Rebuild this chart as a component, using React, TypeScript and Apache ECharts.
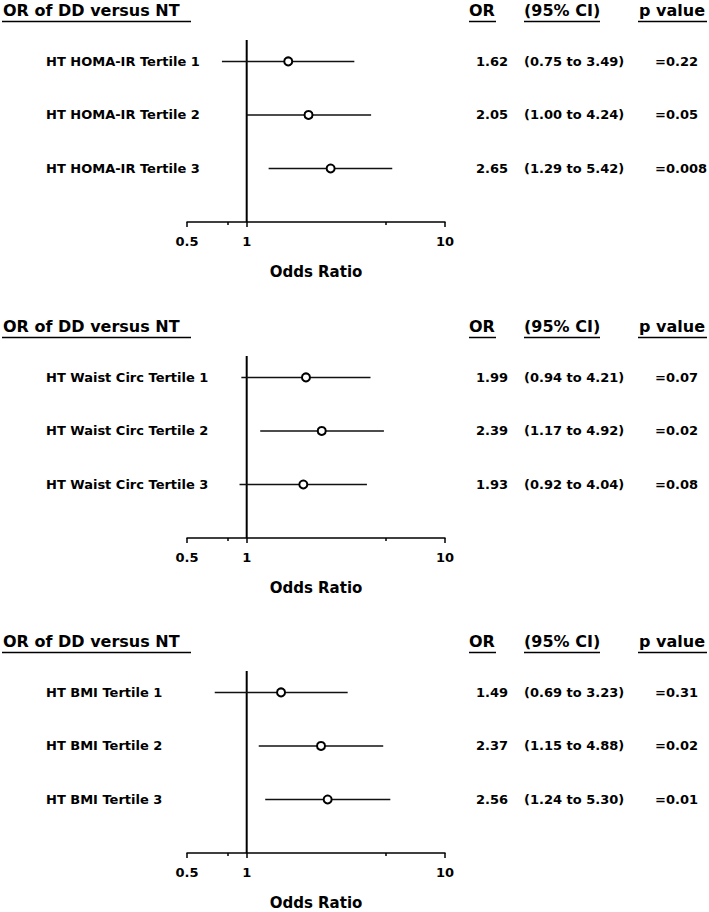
import React, { useEffect, useRef } from "react";
import * as echarts from "echarts";

const FONT = "'DejaVu Sans', 'Liberation Sans', sans-serif";

// Panel 1: HOMA-IR
const homaLabels = ["HT HOMA-IR Tertile 1", "HT HOMA-IR Tertile 2", "HT HOMA-IR Tertile 3"];
const homaOR = [1.62, 2.05, 2.65];
const homaLow = [0.75, 1.0, 1.29];
const homaHigh = [3.49, 4.24, 5.42];
const homaP = ["=0.22", "=0.05", "=0.008"];

// Panel 2: Waist circumference
const waistLabels = ["HT Waist Circ Tertile 1", "HT Waist Circ Tertile 2", "HT Waist Circ Tertile 3"];
const waistOR = [1.99, 2.39, 1.93];
const waistLow = [0.94, 1.17, 0.92];
const waistHigh = [4.21, 4.92, 4.04];
const waistP = ["=0.07", "=0.02", "=0.08"];

// Panel 3: BMI
const bmiLabels = ["HT BMI Tertile 1", "HT BMI Tertile 2", "HT BMI Tertile 3"];
const bmiOR = [1.49, 2.37, 2.56];
const bmiLow = [0.69, 1.15, 1.24];
const bmiHigh = [3.23, 4.88, 5.3];
const bmiP = ["=0.31", "=0.02", "=0.01"];

const majorTicks = [0.5, 1, 10];
const minorTicks = [0.8, 5];
const headerTitle = "OR of DD versus NT";
const colHeaders = ["OR", "(95% CI)", "p value"];
const axisName = "Odds Ratio";

const panels = [
  { labels: homaLabels, or: homaOR, low: homaLow, high: homaHigh, p: homaP },
  { labels: waistLabels, or: waistOR, low: waistLow, high: waistHigh, p: waistP },
  { labels: bmiLabels, or: bmiOR, low: bmiLow, high: bmiHigh, p: bmiP },
];

const gridTops = [40, 356, 671];
const GRID_H = 182;
const GRID_LEFT = 187;
const GRID_W = 258;
const Y_MIN = 0.6;
const Y_MAX = 4;

export default function App() {
  const ref = useRef<HTMLDivElement>(null);

  useEffect(() => {
    if (!ref.current) return;
    const chart = echarts.init(ref.current, null, { renderer: "svg" });

    const grids: any[] = [];
    const xAxes: any[] = [];
    const yAxes: any[] = [];
    const series: any[] = [];
    const graphics: any[] = [];

    panels.forEach((pn, i) => {
      const top = gridTops[i];
      grids.push({ left: GRID_LEFT, top, width: GRID_W, height: GRID_H, containLabel: false });
      // main x axis
      xAxes.push({
        type: "log",
        logBase: 10,
        min: 0.5,
        max: 10,
        gridIndex: i,
        position: "bottom",
        axisLine: { show: true, lineStyle: { color: "#000", width: 1.5 } },
        axisTick: { show: true, customValues: majorTicks, length: 5, lineStyle: { color: "#000", width: 1.5 } },
        axisLabel: {
          show: true,
          customValues: majorTicks,
          formatter: (v: number) => String(Number(v.toPrecision(3))),
          margin: 13,
          color: "#000",
          fontFamily: FONT,
          fontWeight: "bold",
          fontSize: 13,
        },
        splitLine: { show: false },
        minorTick: { show: false },
        name: axisName,
        nameLocation: "middle",
        nameGap: 42,
        nameTextStyle: { color: "#000", fontFamily: FONT, fontWeight: "bold", fontSize: 15 },
      });
      // minor ticks axis
      xAxes.push({
        type: "log",
        logBase: 10,
        min: 0.5,
        max: 10,
        gridIndex: i,
        position: "bottom",
        axisLine: { show: false },
        axisTick: { show: true, customValues: minorTicks, length: 3, lineStyle: { color: "#000", width: 1.5 } },
        axisLabel: { show: false },
        splitLine: { show: false },
      });
      yAxes.push({ type: "value", min: Y_MIN, max: Y_MAX, inverse: true, gridIndex: i, show: false });

      const data = pn.or.map((o, k) => [pn.low[k], pn.high[k], o, k + 1]);

      series.push({
        type: "line",
        xAxisIndex: i * 2,
        yAxisIndex: i,
        data: [[1, Y_MIN], [1, Y_MAX]],
        symbol: "none",
        lineStyle: { color: "#000", width: 2 },
        silent: true,
        z: 1,
      });

      series.push({
        type: "custom",
        xAxisIndex: i * 2,
        yAxisIndex: i,
        clip: false,
        z: 5,
        encode: { x: [0, 1, 2], y: 3 },
        data,
        renderItem: (params: any, api: any) => {
          const idx = params.dataIndex;
          const y = api.value(3);
          const pL = api.coord([api.value(0), y]);
          const pH = api.coord([api.value(1), y]);
          const pO = api.coord([api.value(2), y]);
          const txt = (text: string, x: number) => ({
            type: "text",
            x,
            y: pO[1],
            style: {
              text,
              fill: "#000",
              font: `bold 13px ${FONT}`,
              align: "left",
              verticalAlign: "middle",
              textAlign: "left",
              textVerticalAlign: "middle",
            },
          });
          return {
            type: "group",
            children: [
              {
                type: "line",
                shape: { x1: pL[0], y1: pL[1], x2: pH[0], y2: pH[1] },
                style: { stroke: "#111", lineWidth: 1.5 },
              },
              {
                type: "circle",
                shape: { cx: pO[0], cy: pO[1], r: 4 },
                style: { fill: "#fff", stroke: "#000", lineWidth: 2 },
              },
              txt(pn.labels[idx], 46),
              txt(api.value(2).toFixed(2), 476),
              txt(`(${api.value(0).toFixed(2)} to ${api.value(1).toFixed(2)})`, 524),
              txt(pn.p[idx], 655),
            ],
          };
        },
      });

      // headers
      const hy = top - 30;
      const uy = top - 18.5;
      const head = (text: string, x: number, x1: number, x2: number) => {
        graphics.push({
          type: "text",
          x,
          y: hy,
          style: { text, fill: "#000", font: `bold 16px ${FONT}`, textAlign: "left", textVerticalAlign: "middle" },
        });
        graphics.push({
          type: "line",
          shape: { x1, y1: uy, x2, y2: uy },
          style: { stroke: "#000", lineWidth: 1.5 },
        });
      };
      head(headerTitle, 3, 2, 191);
      head(colHeaders[0], 469, 469, 496);
      head(colHeaders[1], 524, 524, 600);
      head(colHeaders[2], 639, 638, 707);
    });

    chart.setOption({
      animation: false,
      backgroundColor: "#fff",
      grid: grids,
      xAxis: xAxes,
      yAxis: yAxes,
      series,
      graphic: graphics,
    });

    return () => chart.dispose();
  }, []);

  return (
    <div
      ref={ref}
      style={{ position: "fixed", left: 0, top: 0, width: 709, height: 912, background: "#fff" }}
    />
  );
}
